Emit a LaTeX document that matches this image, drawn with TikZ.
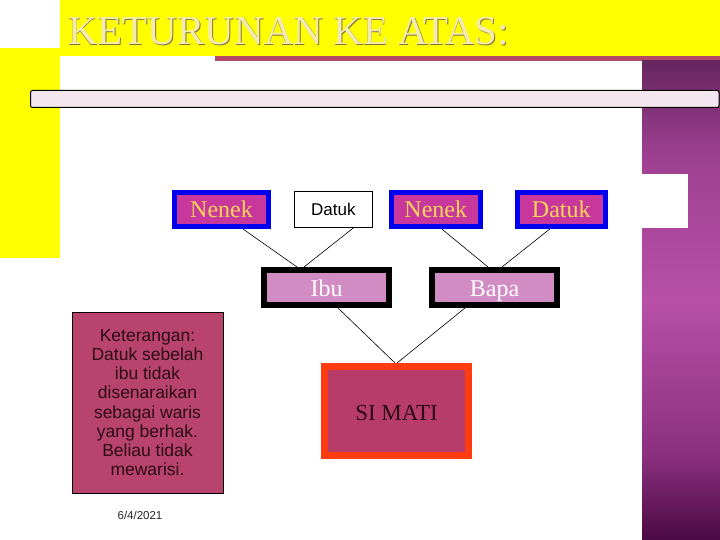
\documentclass[tikz,border=0pt]{standalone}
\usepackage{fontspec}
\setmainfont{Liberation Serif}
\setsansfont{Liberation Sans}
\usetikzlibrary{positioning}

\definecolor{bandyellow}{HTML}{FFFF00}
\definecolor{barred}{HTML}{B24A66}
\definecolor{barpink}{HTML}{F3E6EE}
\definecolor{titlecream}{HTML}{F3EBB2}
\definecolor{titleedge}{HTML}{857638}
\definecolor{kinblue}{HTML}{0000EE}
\definecolor{kinmagenta}{HTML}{C8389C}
\definecolor{kingold}{HTML}{F8D458}
\definecolor{parentfill}{HTML}{D28CC4}
\definecolor{deadred}{HTML}{FF3C10}
\definecolor{deadfill}{HTML}{B83C6A}
\definecolor{notefill}{HTML}{B8446E}
\definecolor{notetext}{HTML}{2C0A16}
\definecolor{panelbot}{HTML}{4A0A42}
\definecolor{panellow}{HTML}{8C3080}
\definecolor{panelmid}{HTML}{B850A8}
\definecolor{panelhigh}{HTML}{9E4092}
\definecolor{paneltop}{HTML}{66265E}

% the path covers 25bp--75bp of the declared shading
\pgfdeclareverticalshading{panelshade}{100bp}{
  color(0bp)=(panelbot);
  color(25bp)=(panelbot);
  color(34bp)=(panellow);
  color(50bp)=(panelmid);
  color(65bp)=(panelhigh);
  color(75bp)=(paneltop);
  color(100bp)=(paneltop)}

\begin{document}
\begin{tikzpicture}[x=1pt,y=-1pt,
  kinbox/.style={draw=kinblue,line width=5pt,outer sep=2.5pt,fill=kinmagenta,text=kingold,inner sep=0pt,text height=16pt,text depth=0pt,minimum height=34pt,font=\fontsize{24}{26}\selectfont},
  datukbox/.style={draw,line width=0.8pt,outer sep=0.4pt,fill=white,inner sep=0pt,text height=12pt,text depth=0pt,minimum width=78pt,minimum height=36pt,font=\sffamily\fontsize{17}{19}\selectfont},
  parentbox/.style={draw=black,line width=6pt,outer sep=3pt,fill=parentfill,text=white,inner sep=0pt,text height=17pt,text depth=0pt,minimum width=125pt,minimum height=35pt,font=\fontsize{24}{26}\selectfont},
  deadbox/.style={draw=deadred,line width=7pt,outer sep=3.5pt,fill=deadfill,text=notetext,inner sep=0pt,text height=18pt,text depth=0pt,minimum width=144pt,minimum height=89pt,font=\fontsize{23}{25}\selectfont},
  notebox/.style={draw,line width=0.8pt,fill=notefill,text=notetext,align=center,inner sep=0pt,minimum width=151pt,minimum height=181pt,font=\sffamily\fontsize{17.5}{19.2}\selectfont},
  link/.style={draw,line width=0.6pt}]
% slide background
\fill[white] (0,0) rectangle (720,540);
\useasboundingbox (0,0) rectangle (720,540);
\fill[bandyellow] (60,0) rectangle (720,56);
\fill[bandyellow] (0,48) rectangle (60,258);
\fill[barred] (215,56) rectangle (720,61);
\shade[shading=panelshade] (642,61) rectangle (720,540);
\fill[white] (642,174) rectangle (688,228);
\draw[fill=barpink,line width=1pt,rounded corners=2pt] (30.5,90.5) rectangle (719,107.5);
% title
\node[anchor=base west,inner sep=0pt,text=titleedge,font=\fontsize{41}{44}\selectfont] (titleshade) at (68.7,45.7) {KETURUNAN KE ATAS:};
\node[anchor=base west,inner sep=0pt,text=titlecream,font=\fontsize{41}{44}\selectfont] (title) at (68,45) {KETURUNAN KE ATAS:};
% grandparents
\node[kinbox,minimum width=94pt] (nenekA) at (221.5,209.5) {Nenek};
\node[datukbox,right=23pt of nenekA] (datukA) {Datuk};
\node[kinbox,minimum width=89pt,right=16pt of datukA] (nenekB) {Nenek};
\node[kinbox,minimum width=88pt,right=32pt of nenekB] (datukB) {Datuk};
% parents
\node[parentbox] (ibu) at (326.5,287.5) {Ibu};
\node[parentbox,right=37pt of ibu] (bapa) {Bapa};
% deceased
\node[deadbox] (simati) at (396.5,411) {SI MATI};
% note
\node[notebox] (note) at (147.5,402.5) {Keterangan:\\Datuk sebelah\\ibu tidak\\disenaraikan\\sebagai waris\\yang berhak.\\Beliau tidak\\mewarisi.};
\node[font=\sffamily\fontsize{11.5}{13}\selectfont,text=black!85] (date) at (140,515) {6/4/2021};
% links
\draw[link] ([xshift=21.5pt]nenekA.south) -- ([xshift=-29.5pt]ibu.north);
\draw[link] ([xshift=20pt]datukA.south) -- ([xshift=-22.5pt]ibu.north);
\draw[link] ([xshift=6pt]nenekB.south) -- ([xshift=-6.5pt]bapa.north);
\draw[link] ([xshift=-11.5pt]datukB.south) -- ([xshift=7.5pt]bapa.north);
\draw[link] ([xshift=11.5pt]ibu.south) -- ([xshift=-1.5pt]simati.north);
\draw[link] ([xshift=-29.5pt]bapa.south) -- ([xshift=0.5pt]simati.north);
\end{tikzpicture}
\end{document}
